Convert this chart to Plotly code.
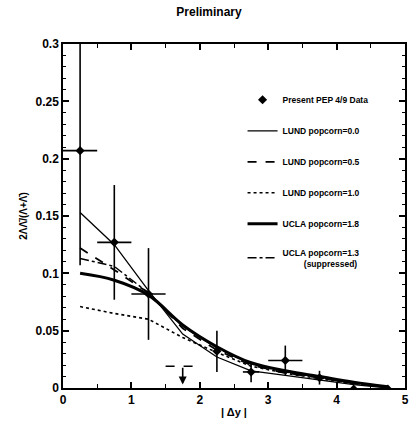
import plotly.graph_objects as go

# ---- data ----
x_bins = [0.25, 0.75, 1.25, 2.25, 2.75, 3.25, 3.75, 4.25, 4.75]
y_data = [0.207, 0.127, 0.082, 0.032, 0.014, 0.024, 0.009, -0.001, -0.001]
y_err = [0.1, 0.05, 0.04, 0.018, 0.009, 0.013, 0.006, 0.0, 0.0]
x_err = [0.25, 0.25, 0.25, 0.0, 0.12, 0.25, 0.0, 0.0, 0.0]

ul_x = [1.5, 2.0]        # upper-limit bin edges
ul_center = 1.75
ul_value = 0.019
ul_arrow_end = 0.003

x_curve = [0.25, 0.75, 1.25, 1.75, 2.25, 2.75, 3.25, 3.75, 4.25, 4.75]
lund_00 = [0.153, 0.125, 0.085, 0.047, 0.027, 0.015, 0.011, 0.007, 0.003, 0.0]
lund_05 = [0.122, 0.103, 0.083, 0.052, 0.033, 0.020, 0.013, 0.009, 0.004, 0.001]
lund_10 = [0.071, 0.065, 0.060, 0.044, 0.031, 0.019, 0.013, 0.008, 0.004, 0.001]
ucla_18 = [0.100, 0.094, 0.081, 0.055, 0.036, 0.022, 0.015, 0.010, 0.005, 0.001]
ucla_13 = [0.113, 0.106, 0.083, 0.054, 0.035, 0.021, 0.014, 0.009, 0.004, 0.001]

FONT = "Liberation Sans"

fig = go.Figure()

fig.add_trace(go.Scatter(
    x=x_bins, y=y_data, mode="markers",
    marker=dict(symbol="diamond", size=7, color="black"),
    error_y=dict(type="data", array=y_err, color="black", thickness=1.6, width=0),
    error_x=dict(type="data", array=x_err, color="black", thickness=1.6, width=0),
    name="<b>Present PEP 4/9 Data</b>", legendgroup="a"))

fig.add_trace(go.Scatter(x=x_curve, y=lund_00, mode="lines",
    line=dict(color="black", width=1.3), name="<b>LUND popcorn=0.0</b>", legendgroup="b"))
fig.add_trace(go.Scatter(x=x_curve, y=lund_05, mode="lines",
    line=dict(color="black", width=1.8, dash="dash"), name="<b>LUND popcorn=0.5</b>", legendgroup="c"))
fig.add_trace(go.Scatter(x=x_curve, y=lund_10, mode="lines",
    line=dict(color="black", width=1.6, dash="dot"), name="<b>LUND popcorn=1.0</b>", legendgroup="d"))
fig.add_trace(go.Scatter(x=x_curve, y=ucla_18, mode="lines", line_shape="spline",
    line=dict(color="black", width=3), name="<b>UCLA popcorn=1.8</b>", legendgroup="e"))
fig.add_trace(go.Scatter(x=x_curve, y=ucla_13, mode="lines",
    line=dict(color="black", width=1.5, dash="dashdot"),
    name="<b>UCLA popcorn=1.3</b><br>         <b>(suppressed)</b>", legendgroup="f"))

# upper limit bin
fig.add_trace(go.Scatter(x=ul_x, y=[ul_value, ul_value], mode="lines",
    line=dict(color="black", width=1.6, dash="dash"), showlegend=False))
fig.add_annotation(x=ul_center, y=ul_arrow_end, ax=ul_center, ay=ul_value,
    xref="x", yref="y", axref="x", ayref="y", showarrow=True,
    arrowhead=2, arrowsize=1, arrowwidth=1.6, arrowcolor="black", text="")

fig.update_layout(
    width=418, height=426,
    margin=dict(l=63, r=9, t=44, b=36),
    paper_bgcolor="white", plot_bgcolor="white",
    font=dict(family=FONT, color="black", size=11),
    title=dict(text="<b>Preliminary</b>", x=0.5, xanchor="center", y=0.972, yanchor="middle",
               font=dict(size=12, family=FONT)),
    legend=dict(x=0.525, y=0.88, xanchor="left", yanchor="top", bgcolor="rgba(0,0,0,0)",
                font=dict(size=8.5, family=FONT), tracegroupgap=12, itemwidth=30,
                traceorder="grouped"),
)
fig.update_xaxes(range=[0, 5], dtick=1, showgrid=False, zeroline=False,
    showline=True, linecolor="black", linewidth=1.5, mirror="allticks",
    ticks="inside", ticklen=6, tickwidth=1.5, tickcolor="black",
    minor=dict(dtick=0.5, ticks="inside", ticklen=4, tickwidth=1.2, tickcolor="black"),
    tickfont=dict(size=12), tickprefix="<b>", ticksuffix="</b>",
    title=dict(text="<b>| Δy |</b>", font=dict(size=11), standoff=2))
fig.update_yaxes(range=[0, 0.3], dtick=0.05, showgrid=False, zeroline=False,
    showline=True, linecolor="black", linewidth=1.5, mirror="allticks",
    ticks="inside", ticklen=6, tickwidth=1.5, tickcolor="black",
    minor=dict(dtick=0.01, ticks="inside", ticklen=3, tickwidth=1.2, tickcolor="black"),
    tickfont=dict(size=12), tickprefix="<b>", ticksuffix="</b>",
    title=dict(text="<b>2ΛΛ̄/(Λ+Λ̄)</b>", font=dict(size=10), standoff=6))

fig.write_html("out.html")
